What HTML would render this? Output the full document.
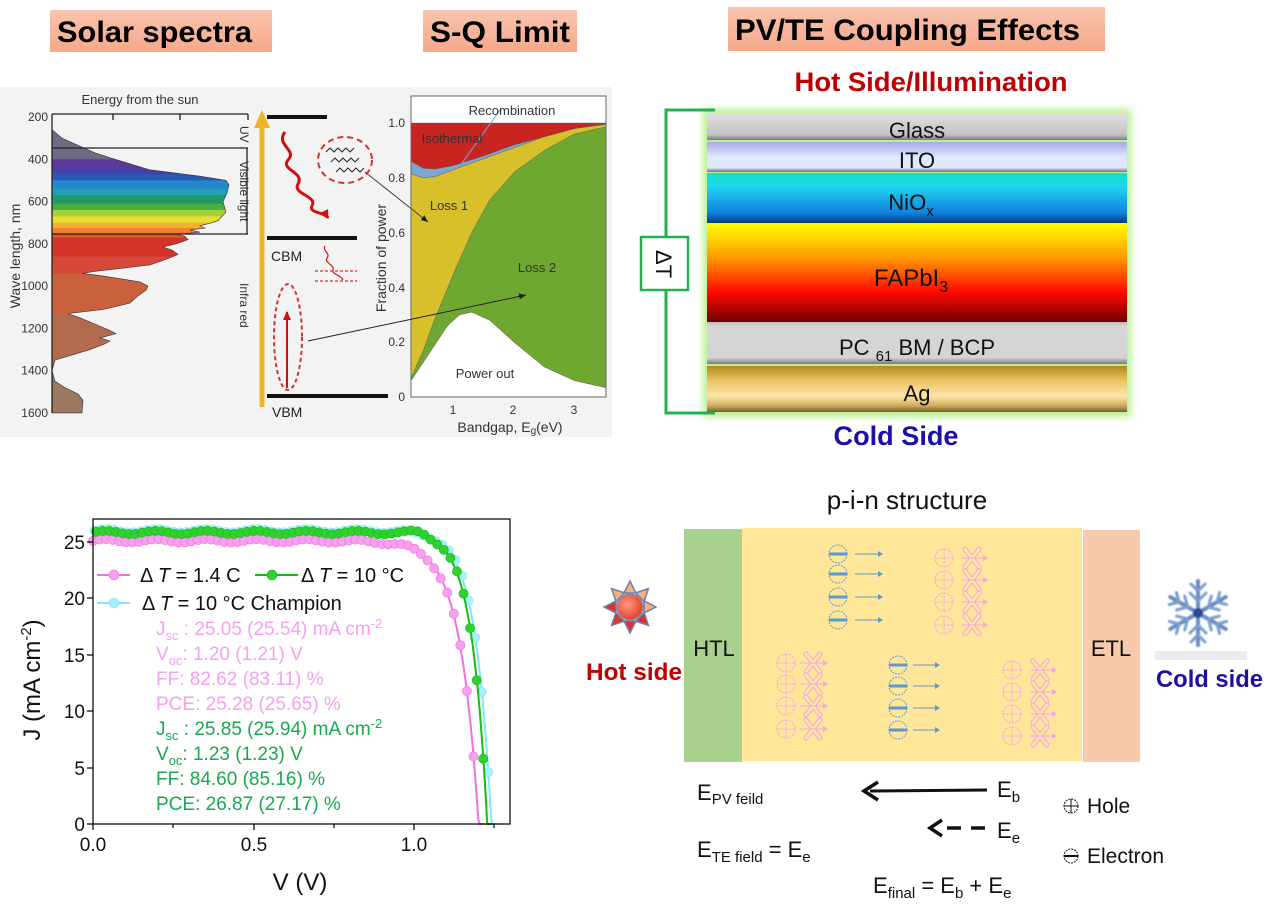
<!DOCTYPE html>
<html><head><meta charset="utf-8">
<style>
html,body{margin:0;padding:0;background:#fff;}
svg{display:block;font-family:"Liberation Sans",Arial,sans-serif;}
</style></head>
<body>
<svg id="s" width="1269" height="910" viewBox="0 0 1269 910" xmlns="http://www.w3.org/2000/svg">
<defs>
<linearGradient id="tag" x1="0" y1="0" x2="0" y2="1"><stop offset="0" stop-color="#f9c4ae"/><stop offset="1" stop-color="#f4a88a"/></linearGradient>
<linearGradient id="glass" x1="0" y1="0" x2="0" y2="1"><stop offset="0" stop-color="#e0e0e0"/><stop offset="0.8" stop-color="#c4c4c4"/><stop offset="1" stop-color="#7a7a7a"/></linearGradient>
<linearGradient id="ito" x1="0" y1="0" x2="0" y2="1"><stop offset="0" stop-color="#a8a8e8"/><stop offset="0.5" stop-color="#e0e8fc"/><stop offset="0.85" stop-color="#dfe8fc"/><stop offset="1" stop-color="#707090"/></linearGradient>
<linearGradient id="nio" x1="0" y1="0" x2="0" y2="1"><stop offset="0" stop-color="#10e0c8"/><stop offset="0.25" stop-color="#20d8f0"/><stop offset="0.8" stop-color="#1080e0"/><stop offset="1" stop-color="#0a3c80"/></linearGradient>
<linearGradient id="fap" x1="0" y1="0" x2="0" y2="1"><stop offset="0" stop-color="#ffff00"/><stop offset="0.35" stop-color="#ff9a00"/><stop offset="0.7" stop-color="#ff0800"/><stop offset="1" stop-color="#700000"/></linearGradient>
<linearGradient id="pcbm" x1="0" y1="0" x2="0" y2="1"><stop offset="0" stop-color="#bdbdbd"/><stop offset="0.1" stop-color="#d6d6d6"/><stop offset="0.85" stop-color="#d4d4d4"/><stop offset="1" stop-color="#7a7a7a"/></linearGradient>
<linearGradient id="ag" x1="0" y1="0" x2="0" y2="1"><stop offset="0" stop-color="#b48a20"/><stop offset="0.3" stop-color="#e8c060"/><stop offset="0.65" stop-color="#fde6a8"/><stop offset="0.85" stop-color="#d8b060"/><stop offset="1" stop-color="#706030"/></linearGradient>
<radialGradient id="sun" cx="0.4" cy="0.4" r="0.6"><stop offset="0" stop-color="#ff9a80"/><stop offset="1" stop-color="#e8402a"/></radialGradient>
<filter id="glow" x="-10%" y="-10%" width="120%" height="120%"><feGaussianBlur stdDeviation="4"/></filter>
<filter id="blur1"><feGaussianBlur stdDeviation="0.8"/></filter>
<clipPath id="specClip"><path id="specPathC"/></clipPath>
<clipPath id="sqClip"><rect x="411" y="96" width="195" height="301"/></clipPath>
<marker id="ah" markerUnits="userSpaceOnUse" markerWidth="8" markerHeight="8" refX="7" refY="4" orient="auto"><path d="M0,1 L7,4 L0,7 z" fill="#222"/></marker>
<marker id="ahr" markerUnits="userSpaceOnUse" markerWidth="10" markerHeight="10" refX="8" refY="5" orient="auto"><path d="M0,1 L9,5 L0,9 z" fill="#d01010"/></marker>
</defs>

<!-- Title tags -->
<rect x="50" y="10" width="222" height="42" fill="url(#tag)"/>
<text x="57" y="42" font-size="30" font-weight="bold" textLength="195" lengthAdjust="spacingAndGlyphs">Solar spectra</text>
<rect x="423" y="10" width="154" height="42" fill="url(#tag)"/>
<text x="430" y="42" font-size="30" font-weight="bold" textLength="140" lengthAdjust="spacingAndGlyphs">S-Q Limit</text>
<rect x="728" y="7" width="377" height="44" fill="url(#tag)"/>
<text x="735" y="40" font-size="30" font-weight="bold" textLength="345" lengthAdjust="spacingAndGlyphs">PV/TE Coupling Effects</text>

<!-- top-left image background -->
<rect x="0" y="87" width="612" height="350" fill="#f3f3f3"/>
<g id="spec"></g>
<text x="140" y="104" font-size="13" text-anchor="middle" fill="#333">Energy from the sun</text>
<text transform="translate(20,256) rotate(-90)" font-size="14" text-anchor="middle" fill="#333">Wave length, nm</text>
<g font-size="12" fill="#333" text-anchor="end" id="wlTicks"></g>
<g stroke="#222" stroke-width="1.3" fill="none">
<line x1="52" y1="114" x2="52" y2="413"/>
<line x1="52" y1="114" x2="248" y2="114"/>
<line x1="113" y1="114" x2="113" y2="120"/><line x1="180" y1="114" x2="180" y2="120"/><line x1="248" y1="114" x2="248" y2="120"/>
<line x1="52" y1="148" x2="248" y2="148"/>
<line x1="52" y1="234" x2="248" y2="234"/>
<line x1="247" y1="148" x2="247" y2="234"/>
</g>
<text transform="translate(240,126) rotate(90)" font-size="12" fill="#333">UV</text>
<text transform="translate(240,161) rotate(90)" font-size="12" fill="#333">Visible light</text>
<text transform="translate(240,283) rotate(90)" font-size="12" fill="#333">Infra red</text>

<!-- energy diagram -->
<line x1="262" y1="407" x2="262" y2="125" stroke="#f0b428" stroke-width="5"/>
<path d="M254,128 L262,110 L270,128 z" fill="#f0b428"/>
<line x1="267" y1="117" x2="327" y2="117" stroke="#111" stroke-width="4"/>
<line x1="267" y1="238" x2="357" y2="238" stroke="#111" stroke-width="4"/>
<line x1="267" y1="396" x2="388" y2="396" stroke="#111" stroke-width="4"/>
<text x="271" y="261" font-size="14" fill="#222">CBM</text>
<text x="272" y="417" font-size="14" fill="#222">VBM</text>
<path d="M285,132 C275,145 298,150 288,160 C280,170 305,172 298,184 C292,194 318,196 312,206 C308,213 325,212 328,218" stroke="#d01010" stroke-width="3" fill="none" marker-end="url(#ahr)"/>
<ellipse cx="345" cy="160" rx="27" ry="23" fill="none" stroke="#d83030" stroke-width="2" stroke-dasharray="6,4"/>
<path d="M326,152 l4,-4 l4,4 l4,-4 l4,4 l4,-4 l4,4 l4,-4 M331,162 l4,-4 l4,4 l4,-4 l4,4 l4,-4 l4,4 l4,-4 M336,172 l4,-4 l4,4 l4,-4 l4,4 l4,-4 l4,4 l4,-4" stroke="#222" stroke-width="1" fill="none"/>
<path d="M325,246 c-3,5 6,7 2,12 c-3,5 8,7 6,12 c-2,4 8,5 10,10" stroke="#d01010" stroke-width="1.2" fill="none"/>
<line x1="315" y1="271" x2="357" y2="271" stroke="#d83030" stroke-width="1.2" stroke-dasharray="3,2"/>
<line x1="315" y1="281" x2="357" y2="281" stroke="#d83030" stroke-width="1.2" stroke-dasharray="3,2"/>
<ellipse cx="288" cy="337" rx="14" ry="53" fill="none" stroke="#d83030" stroke-width="2" stroke-dasharray="4,3"/>
<line x1="287" y1="388" x2="287" y2="312" stroke="#d01010" stroke-width="2" marker-end="url(#ahr)"/>

<!-- SQ plot -->
<rect x="411" y="96" width="195" height="301" fill="#fff"/>
<g id="sq" clip-path="url(#sqClip)"></g>
<rect x="411" y="96" width="195" height="301" fill="none" stroke="#666" stroke-width="1"/>
<line x1="308" y1="341" x2="526" y2="295" stroke="#222" stroke-width="1" marker-end="url(#ah)"/>
<line x1="365" y1="172" x2="428" y2="222" stroke="#444" stroke-width="1" marker-end="url(#ah)"/>
<g font-size="12" fill="#333" text-anchor="end">
<text x="405" y="127">1.0</text><text x="405" y="182">0.8</text><text x="405" y="237">0.6</text><text x="405" y="292">0.4</text><text x="405" y="346">0.2</text><text x="405" y="401">0</text>
</g>
<g font-size="12" fill="#333" text-anchor="middle"><text x="453" y="414">1</text><text x="513" y="414">2</text><text x="574" y="414">3</text></g>
<text x="510" y="432" font-size="14" text-anchor="middle" fill="#333">Bandgap, E<tspan font-size="10" dy="2">g</tspan><tspan dy="-2">(eV)</tspan></text>
<text transform="translate(386,258) rotate(-90)" font-size="14" text-anchor="middle" fill="#333">Fraction of power</text>
<line x1="500" y1="110" x2="460" y2="166" stroke="#6aaed8" stroke-width="1"/>
<text x="512" y="115" font-size="13" text-anchor="middle" fill="#333">Recombination</text>
<text x="452" y="143" font-size="13" text-anchor="middle" fill="#333">Isothermal</text>
<text x="449" y="210" font-size="13" text-anchor="middle" fill="#333">Loss 1</text>
<text x="537" y="272" font-size="13" text-anchor="middle" fill="#333">Loss 2</text>
<text x="485" y="378" font-size="13" text-anchor="middle" fill="#333">Power out</text>

<!-- PV/TE stack -->
<text x="931" y="91" font-size="27" font-weight="bold" fill="#c00000" text-anchor="middle" textLength="273" lengthAdjust="spacingAndGlyphs">Hot Side/Illumination</text>
<rect x="703" y="109" width="428" height="308" fill="#b8f090" filter="url(#glow)"/>
<rect x="707" y="113" width="420" height="27" fill="url(#glass)"/>
<rect x="707" y="142" width="420" height="30" fill="url(#ito)"/>
<rect x="707" y="173" width="420" height="50" fill="url(#nio)"/>
<rect x="707" y="223" width="420" height="99" fill="url(#fap)"/>
<rect x="707" y="322" width="420" height="42" fill="url(#pcbm)"/>
<rect x="707" y="366" width="420" height="46" fill="url(#ag)"/>
<g font-size="22" text-anchor="middle" fill="#111">
<text x="917" y="138">Glass</text>
<text x="917" y="168">ITO</text>
<text x="911" y="210">NiO<tspan font-size="15" dy="6">x</tspan></text>
<text x="911" y="286" font-size="24">FAPbI<tspan font-size="16" dy="6">3</tspan></text>
<text x="917" y="355">PC <tspan font-size="15" dy="6">61</tspan><tspan dy="-6"> BM / BCP</tspan></text>
<text x="917" y="401">Ag</text>
</g>
<path d="M715,110 L666,110 L666,413 L715,413" fill="none" stroke="#22b050" stroke-width="3"/>
<rect x="641" y="237" width="47" height="53" fill="#fff" stroke="#22b050" stroke-width="2.5"/>
<text transform="translate(656,264) rotate(90)" font-size="22" text-anchor="middle" fill="#111">ΔT</text>
<text x="896" y="445" font-size="27" font-weight="bold" fill="#1a10a8" text-anchor="middle" textLength="125" lengthAdjust="spacingAndGlyphs">Cold Side</text>

<!-- JV chart -->
<g id="jv"></g>
<rect x="93" y="519" width="417" height="305" fill="none" stroke="#111" stroke-width="1.3"/>
<g font-size="19" fill="#111" text-anchor="end">
<text x="85" y="831">0</text><text x="85" y="775">5</text><text x="85" y="718">10</text><text x="85" y="662">15</text><text x="85" y="605">20</text><text x="85" y="549">25</text>
</g>
<g font-size="19" fill="#111" text-anchor="middle"><text x="93" y="851">0.0</text><text x="254" y="851">0.5</text><text x="414" y="851">1.0</text></g>
<g stroke="#111" stroke-width="1.3">
<line x1="93" y1="824" x2="93" y2="830"/><line x1="173" y1="824" x2="173" y2="828"/><line x1="254" y1="824" x2="254" y2="830"/><line x1="334" y1="824" x2="334" y2="828"/><line x1="414" y1="824" x2="414" y2="830"/><line x1="494" y1="824" x2="494" y2="828"/>
<line x1="87" y1="824" x2="93" y2="824"/><line x1="87" y1="768" x2="93" y2="768"/><line x1="87" y1="711" x2="93" y2="711"/><line x1="87" y1="655" x2="93" y2="655"/><line x1="87" y1="598" x2="93" y2="598"/><line x1="87" y1="542" x2="93" y2="542"/>
</g>
<text transform="translate(40,680) rotate(-90)" font-size="24" text-anchor="middle" fill="#111">J (mA cm<tspan font-size="15" dy="-9">-2</tspan><tspan dy="9">)</tspan></text>
<text x="300" y="890" font-size="24" text-anchor="middle" fill="#111">V (V)</text>
<g id="leg"></g>
<text x="140" y="582" font-size="20" fill="#111">Δ <tspan font-style="italic">T</tspan> = 1.4 C</text>
<text x="301" y="582" font-size="20" fill="#111">Δ <tspan font-style="italic">T</tspan> = 10 °C</text>
<text x="142" y="610" font-size="20" fill="#111">Δ <tspan font-style="italic">T</tspan> = 10 °C  Champion</text>
<g font-size="19" fill="#f5a0f0">
<text x="156" y="635">J<tspan font-size="13" dy="5">sc</tspan><tspan dy="-5"> : 25.05 (25.54) mA cm</tspan><tspan font-size="13" dy="-7">-2</tspan></text>
<text x="156" y="660">V<tspan font-size="13" dy="5">oc</tspan><tspan dy="-5">: 1.20 (1.21) V</tspan></text>
<text x="156" y="685">FF: 82.62 (83.11) %</text>
<text x="156" y="710">PCE: 25.28 (25.65) %</text>
</g>
<g font-size="19" fill="#18a850">
<text x="156" y="735">J<tspan font-size="13" dy="5">sc</tspan><tspan dy="-5"> : 25.85 (25.94) mA cm</tspan><tspan font-size="13" dy="-7">-2</tspan></text>
<text x="156" y="760">V<tspan font-size="13" dy="5">oc</tspan><tspan dy="-5">: 1.23 (1.23) V</tspan></text>
<text x="156" y="785">FF: 84.60 (85.16) %</text>
<text x="156" y="810">PCE: 26.87 (27.17) %</text>
</g>

<!-- p-i-n -->
<text x="907" y="509" font-size="26" text-anchor="middle" fill="#111">p-i-n structure</text>
<rect x="684" y="529" width="58" height="233" fill="#a9d18e"/>
<rect x="742" y="528" width="340" height="233" fill="#ffe699"/>
<rect x="1083" y="530" width="57" height="232" fill="#f7caac"/>
<text x="714" y="656" font-size="22" text-anchor="middle" fill="#111">HTL</text>
<text x="1111" y="656" font-size="22" text-anchor="middle" fill="#111">ETL</text>
<g id="car"></g>
<g id="sunG"></g>
<text x="586" y="680" font-size="24" font-weight="bold" fill="#c00000" textLength="96" lengthAdjust="spacingAndGlyphs">Hot side</text>
<g id="snow" filter="url(#blur1)"></g>
<rect x="1155" y="651" width="92" height="9" fill="#ececec"/>
<text x="1156" y="687" font-size="24" font-weight="bold" fill="#1a10a8" textLength="107" lengthAdjust="spacingAndGlyphs">Cold side</text>

<g font-size="22" fill="#111">
<text x="697" y="800">E<tspan font-size="15" dy="4">PV feild</tspan></text>
<text x="997" y="797">E<tspan font-size="15" dy="5">b</tspan></text>
<text x="997" y="838">E<tspan font-size="15" dy="5">e</tspan></text>
<text x="697" y="857">E<tspan font-size="15" dy="5">TE field</tspan><tspan dy="-5"> = E</tspan><tspan font-size="15" dy="5">e</tspan></text>
<text x="873" y="893">E<tspan font-size="15" dy="5">final</tspan><tspan dy="-5"> = E</tspan><tspan font-size="15" dy="5">b</tspan><tspan dy="-5"> + E</tspan><tspan font-size="15" dy="5">e</tspan></text>
<text x="1087" y="813" font-size="21">Hole</text>
<text x="1087" y="863" font-size="21">Electron</text>
</g>
<line x1="987" y1="790" x2="870" y2="791" stroke="#111" stroke-width="3"/>
<path d="M878,782 L864,791 L878,800" fill="none" stroke="#111" stroke-width="3.5"/>
<line x1="985" y1="828" x2="938" y2="828" stroke="#111" stroke-width="3.5" stroke-dasharray="14,10"/>
<path d="M942,820 L930,828 L942,836" fill="none" stroke="#111" stroke-width="3.5"/>
<circle cx="1071" cy="806" r="7" fill="none" stroke="#111" stroke-width="1" stroke-dasharray="2,1"/>
<path d="M1064,806 h14 M1071,799 v14" stroke="#111" stroke-width="1"/>
<circle cx="1071" cy="856" r="7" fill="none" stroke="#111" stroke-width="1" stroke-dasharray="2,1"/>
<path d="M1064,856 h14" stroke="#111" stroke-width="2"/>
</svg>
<script>
var NS="http://www.w3.org/2000/svg";
function el(p,t,a){var e=document.createElementNS(NS,t);for(var k in a)e.setAttribute(k,a[k]);p.appendChild(e);return e;}
function interp(pts,x){for(var i=0;i<pts.length-1;i++){if(x<=pts[i+1][0]){var t=(x-pts[i][0])/(pts[i+1][0]-pts[i][0]);return pts[i][1]+t*(pts[i+1][1]-pts[i][1]);}}return pts[pts.length-1][1];}
var wy=function(w){return 117+(w-200)*0.2114;};
var sp=[[260,52],[300,62],[370,95],[400,115],[450,150],[480,200],[500,226],[520,229],[560,227],[600,223],[650,226],[690,218],[700,212],[715,200],[725,205],[735,190],[745,200],[755,178],[765,185],[780,188],[800,176],[815,163],[830,172],[850,178],[870,168],[900,150],[930,95],[940,82],[950,100],[980,140],[1000,148],[1020,146],[1050,137],[1080,130],[1110,104],[1130,68],[1150,80],[1190,100],[1210,110],[1225,116],[1245,100],[1260,110],[1275,104],[1300,90],[1350,55],[1400,52],[1450,55],[1480,65],[1510,78],[1540,83],[1600,82]];
var d="M52,"+wy(260);sp.forEach(function(p){d+=" L"+p[1]+","+wy(p[0]);});d+=" L52,"+wy(1600)+" Z";
document.getElementById("specPathC").setAttribute("d",d);
var sg=document.getElementById("spec");
var g=el(sg,"g",{"clip-path":"url(#specClip)"});
var bands=[[200,400,"#716a84"],[400,440,"#5a3a98"],[440,470,"#4840a8"],[470,500,"#2a58b8"],[500,540,"#2488cc"],[540,570,"#20a0b0"],[570,610,"#209868"],[610,640,"#48b040"],[640,670,"#a8d038"],[670,700,"#e8e030"],[700,725,"#f0b030"],[725,750,"#ef8030"],[750,770,"#e05830"],[770,860,"#d43428"],[860,940,"#d6483a"],[940,1130,"#c9603e"],[1130,1350,"#b46a4c"],[1350,1610,"#9c7862"]];
bands.forEach(function(b){el(g,"rect",{x:52,y:wy(b[0]),width:200,height:wy(b[1])-wy(b[0])+0.5,fill:b[2]});});
el(sg,"path",{d:d,fill:"none",stroke:"#333","stroke-width":0.6});
var wt=document.getElementById("wlTicks");
[200,400,600,800,1000,1200,1400,1600].forEach(function(w){var t=el(wt,"text",{x:48,y:wy(w)+4});t.textContent=w;});
var X=function(E){return 393+60.5*E;},Y=function(f){return 397-274*f;};
var P=[[0.2,0.03],[0.3,0.06],[0.6,0.16],[0.9,0.26],[1.1,0.30],[1.3,0.31],[1.6,0.28],[2.0,0.2],[2.5,0.11],[3.0,0.06],[3.6,0.03]];
var G=[[0.2,0.03],[0.3,0.07],[0.5,0.17],[0.7,0.29],[1.0,0.45],[1.3,0.6],[1.6,0.72],[2.0,0.82],[2.5,0.9],[3.0,0.96],[3.6,0.99]];
var Yl=[[0.2,0.82],[0.3,0.815],[0.5,0.80],[0.7,0.805],[1.0,0.83],[1.5,0.87],[2.0,0.91],[2.5,0.95],[3.0,0.98],[3.6,0.997]];
var B=[[0.2,0.87],[0.3,0.86],[0.5,0.835],[0.7,0.832],[1.0,0.845],[1.5,0.88],[2.0,0.92],[3.0,0.98],[3.6,1.0]];
function band(lo,hi,fill){var up="",dn="";for(var E=0.2;E<=3.61;E+=0.05){up+=(up?" L":"M")+X(E).toFixed(1)+","+Y(hi===1?1:interp(hi,E)).toFixed(1);}
for(var E=3.6;E>=0.19;E-=0.05){dn+=" L"+X(E).toFixed(1)+","+Y(lo===0?0:interp(lo,E)).toFixed(1);}
el(document.getElementById("sq"),"path",{d:up+dn+" Z",fill:fill,stroke:"#555","stroke-width":0.4});}
band(0,P,"#ffffff");band(P,G,"#6fa830");band(G,Yl,"#d8c02a");band(Yl,B,"#7aa8d0");band(B,1,"#c82420");
var jv=document.getElementById("jv");
var vx=function(V){return 93+320*V;},jy=function(J){return 824-11.28*J;};
function curve(Jsc,Voc,a,col,mcol,off,bump){var pts=[];for(var V=0;V<=Voc+0.02;V+=0.004){var J=Jsc*(1-Math.exp((V-Voc)/a));if(J<0)J=0;if(bump)J+=bump*Math.exp(-Math.pow((V-1.02)/0.04,2));pts.push(vx(V).toFixed(1)+","+jy(J).toFixed(1));}
el(jv,"polyline",{points:pts.join(" "),fill:"none",stroke:col,"stroke-width":2});
for(var V=off;V<=Voc;V+=0.0205){var J=Jsc*(1-Math.exp((V-Voc)/a));if(bump)J+=bump*Math.exp(-Math.pow((V-1.02)/0.04,2));J+=0.15*Math.sin(V*40);if(J<0)continue;el(jv,"circle",{cx:vx(V),cy:jy(J),r:4.6,fill:mcol,stroke:col,"stroke-width":0.6});}}
curve(26.0,1.245,0.05,"#80e8f8","#a8f0fc",0.005,0);
curve(25.1,1.205,0.058,"#f070e0","#f7a0ef",0.0,0);
curve(25.85,1.232,0.048,"#10c010","#30d030",0.01,0.35);
var lg=document.getElementById("leg");
function legi(x1,x2,cx,y,col,mcol){el(lg,"line",{x1:x1,y1:y,x2:x2,y2:y,stroke:col,"stroke-width":2});el(lg,"circle",{cx:cx,cy:y,r:5,fill:mcol,stroke:col,"stroke-width":0.6});}
legi(97,130,114,575,"#f070e0","#f7a0ef");legi(255,298,272,575,"#10c010","#30d030");legi(97,130,114,603,"#80e8f8","#a8f0fc");
var car=document.getElementById("car");
function elec(x,y){el(car,"circle",{cx:x,cy:y,r:9,fill:"none",stroke:"#5b9bd5","stroke-width":1,"stroke-dasharray":"2,1"});el(car,"line",{x1:x-9,y1:y,x2:x+9,y2:y,stroke:"#5b9bd5","stroke-width":3});}
function hole(x,y){el(car,"circle",{cx:x,cy:y,r:9,fill:"none",stroke:"#f4a0f0","stroke-width":1,"stroke-dasharray":"2,1"});el(car,"path",{d:"M"+(x-9)+","+y+"h18M"+x+","+(y-9)+"v18",stroke:"#f4a0f0","stroke-width":1,"stroke-dasharray":"2,1"});}
function cross(x,y){el(car,"path",{d:"M"+(x-7)+","+(y-9)+" l14,18 M"+(x+7)+","+(y-9)+" l-14,18",stroke:"#f4a0f0","stroke-width":5,fill:"none","stroke-linecap":"round"});el(car,"path",{d:"M"+(x-7)+","+(y-9)+" l14,18 M"+(x+7)+","+(y-9)+" l-14,18",stroke:"#ffe699","stroke-width":3,fill:"none","stroke-linecap":"round"});}
function arr(x1,x2,y,c){el(car,"line",{x1:x1,y1:y,x2:x2-4,y2:y,stroke:c,"stroke-width":1});el(car,"path",{d:"M"+(x2-5)+","+(y-3)+" L"+x2+","+y+" L"+(x2-5)+","+(y+3)+"z",fill:c});}
[554,574,597,620].forEach(function(y){elec(838,y);arr(855,883,y,"#5b9bd5");});
[665,686,708,730].forEach(function(y){elec(898,y);arr(913,940,y,"#5b9bd5");});
[558,580,602,625].forEach(function(y){hole(944,y);cross(972,y);arr(962,988,y,"#f4a0f0");});
[663,684,706,729].forEach(function(y){hole(786,y);cross(813,y);arr(800,828,y,"#f4a0f0");});
[670,692,714,736].forEach(function(y){hole(1012,y);cross(1040,y);arr(1030,1057,y,"#f4a0f0");});
var su=document.getElementById("sunG");
for(var i=0;i<8;i++){var a=i*Math.PI/4-Math.PI/2,c=Math.cos(a),s=Math.sin(a),p=Math.cos(a+Math.PI/2),q=Math.sin(a+Math.PI/2);
el(su,"path",{d:"M"+(630+c*26)+","+(607+s*26)+" L"+(630+c*14+p*6)+","+(607+s*14+q*6)+" L"+(630+c*14-p*6)+","+(607+s*14-q*6)+"z",fill:i<3||i>6?"#f4b080":"#e03030",stroke:"#7080a8","stroke-width":1.5});}
el(su,"circle",{cx:630,cy:607,r:13,fill:"url(#sun)",stroke:"#8090b0","stroke-width":1.5});
var sn=document.getElementById("snow");
for(var i=0;i<6;i++){var g2=el(sn,"g",{transform:"translate(1198,613) rotate("+(i*60)+")"});
el(g2,"line",{x1:0,y1:0,x2:0,y2:-32,stroke:"#6a8cc0","stroke-width":4,"stroke-linecap":"round"});
el(g2,"path",{d:"M0,-12 l-8,-8 M0,-12 l8,-8 M0,-22 l-7,-7 M0,-22 l7,-7",stroke:"#7a9cd0","stroke-width":3,"stroke-linecap":"round",fill:"none"});}
el(sn,"circle",{cx:1198,cy:613,r:5,fill:"#2a4a90"});
</script>
</body></html>
